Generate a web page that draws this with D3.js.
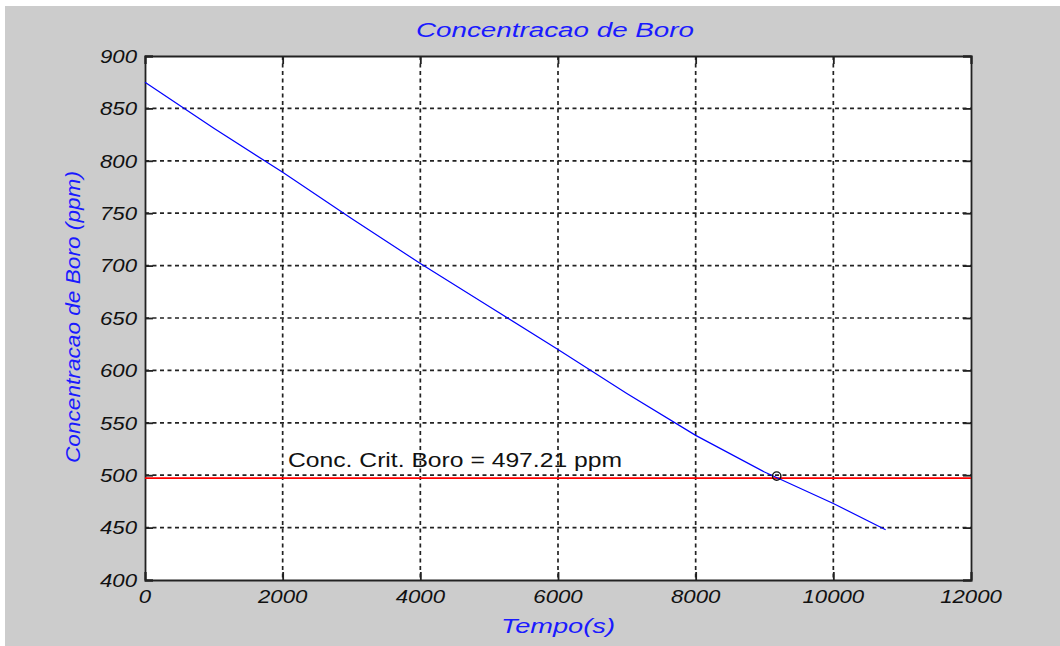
<!DOCTYPE html>
<html><head><meta charset="utf-8">
<script src="https://cdn.jsdelivr.net/npm/d3@7"></script>
<style>body{margin:0;background:#fff;} text{font-family:"Liberation Sans",Arial,sans-serif;}</style>
</head><body>
<svg id="chart" width="1060" height="646"></svg>
<script>
// Data
const timeValues = [0, 1000, 2000, 3000, 4000, 5000, 6000, 7000, 8000, 9000, 10000, 10760];
const boronValues = [875, 831, 789, 745, 702, 661, 620, 578, 538, 503, 473, 448];
const critTime = 9177;
const critBoron = 497.21;
const xTicks = [0, 2000, 4000, 6000, 8000, 10000, 12000];
const yTicks = [400, 450, 500, 550, 600, 650, 700, 750, 800, 850, 900];
const titleText = "Concentracao de Boro";
const xLabelText = "Tempo(s)";
const yLabelText = "Concentracao de Boro (ppm)";
const annotText = "Conc. Crit. Boro = 497.21 ppm";

const svg = d3.select("#chart");
const L = 145, R = 971, T = 56, B = 580;
svg.append("rect").attr("x", 5).attr("y", 6).attr("width", 1055).attr("height", 640).attr("fill", "#cccccc");
svg.append("rect").attr("x", L).attr("y", T).attr("width", R - L).attr("height", B - T).attr("fill", "#ffffff");

const x = d3.scaleLinear().domain([0, 12000]).range([L, R]);
const y = d3.scaleLinear().domain([400, 900]).range([B, T]);

// grid
const grid = svg.append("g").attr("stroke", "#222").attr("stroke-width", 1.7).attr("stroke-dasharray", "4,3.5");
grid.selectAll(".gx").data(xTicks.slice(1, -1)).join("line")
  .attr("x1", d => x(d)).attr("x2", d => x(d)).attr("y1", T).attr("y2", B);
grid.selectAll(".gy").data(yTicks.slice(1, -1)).join("line")
  .attr("y1", d => y(d)).attr("y2", d => y(d)).attr("x1", L).attr("x2", R);

// axes with inward ticks
const tickLen = 8;
const fmt = d3.format("d");
const ax = d3.axisBottom(x).tickValues(xTicks).tickSize(-tickLen).tickFormat("");
const ay = d3.axisLeft(y).tickValues(yTicks).tickSize(-tickLen).tickFormat("");
const axT = d3.axisTop(x).tickValues(xTicks).tickSize(-tickLen).tickFormat("");
const ayR = d3.axisRight(y).tickValues(yTicks).tickSize(-tickLen).tickFormat("");
[[ax, `translate(0,${B})`], [axT, `translate(0,${T})`], [ay, `translate(${L},0)`], [ayR, `translate(${R},0)`]].forEach(([a, tr]) => {
  const g = svg.append("g").attr("transform", tr).call(a);
  g.select(".domain").attr("stroke", "#222").attr("stroke-width", 1.8);
  g.selectAll(".tick line").attr("stroke", "#222").attr("stroke-width", 1.8);
});

// tick labels (stretched horizontally like reference)
const sx = 1.2;
svg.append("g").selectAll("text").data(xTicks).join("text")
  .attr("transform", d => `translate(${x(d)},603) scale(${sx},1)`)
  .attr("text-anchor", "middle").attr("font-size", 18.5).attr("font-style", "italic").attr("fill", "#111")
  .text(d => fmt(d));
svg.append("g").selectAll("text").data(yTicks).join("text")
  .attr("transform", d => `translate(137,${y(d) + 6.7}) scale(${sx},1)`)
  .attr("text-anchor", "end").attr("font-size", 18.5).attr("font-style", "italic").attr("fill", "#111")
  .text(d => d);

// red critical line
svg.append("line").attr("x1", L).attr("x2", R).attr("y1", y(critBoron)).attr("y2", y(critBoron))
  .attr("stroke", "#ff0000").attr("stroke-width", 1.6);

// blue curve
const line = d3.line().x((d, i) => x(timeValues[i])).y(d => y(d));
svg.append("path").datum(boronValues).attr("d", line).attr("fill", "none")
  .attr("stroke", "#0000ff").attr("stroke-width", 1.2);

// critical point marker
svg.append("circle").attr("cx", x(critTime)).attr("cy", y(critBoron) - 2).attr("r", 4.2)
  .attr("fill", "none").attr("stroke", "#111").attr("stroke-width", 1.4);

// annotation
svg.append("text").attr("x", 288).attr("y", 467).attr("font-size", 19.5).attr("fill", "#111")
  .attr("textLength", 334).attr("lengthAdjust", "spacingAndGlyphs").text(annotText);

// title & labels
svg.append("text").attr("x", 555).attr("y", 37).attr("text-anchor", "middle").attr("font-size", 19.5)
  .attr("font-style", "italic").attr("fill", "#1a1aff").attr("textLength", 278).attr("lengthAdjust", "spacingAndGlyphs").text(titleText);
svg.append("text").attr("x", 558).attr("y", 633).attr("text-anchor", "middle").attr("font-size", 21)
  .attr("font-style", "italic").attr("fill", "#1a1aff").attr("textLength", 114).attr("lengthAdjust", "spacingAndGlyphs").text(xLabelText);
svg.append("text").attr("transform", "translate(80,317) rotate(-90)").attr("text-anchor", "middle").attr("font-size", 19.5)
  .attr("font-style", "italic").attr("fill", "#1a1aff").attr("textLength", 292).attr("lengthAdjust", "spacingAndGlyphs").text(yLabelText);
</script>
</body></html>
